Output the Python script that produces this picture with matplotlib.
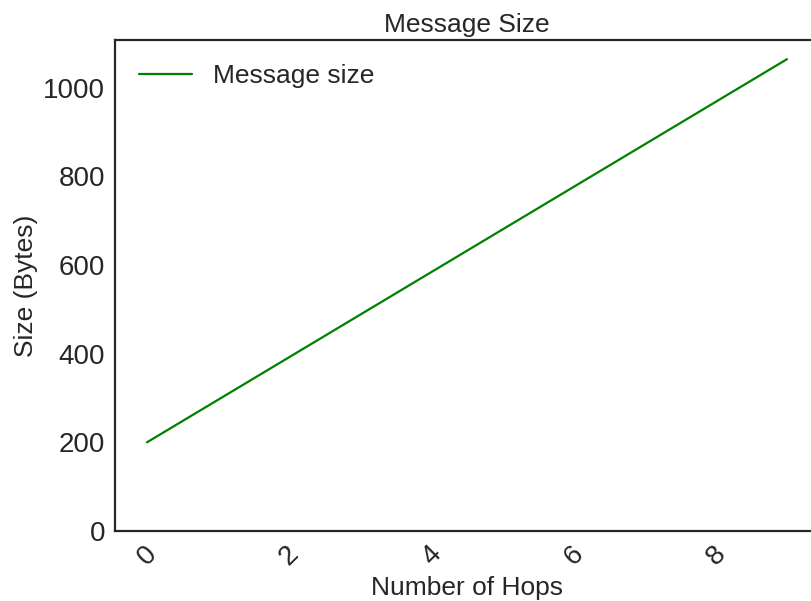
import matplotlib
matplotlib.use("Agg")
import matplotlib.pyplot as plt
import seaborn as sns

hops = [0, 1, 2, 3, 4, 5, 6, 7, 8, 9]
msg_size = [200, 296, 392, 488, 584, 680, 776, 872, 968, 1064]

sns.set_style("white")
plt.rcParams['font.family'] = ['Liberation Sans', 'DejaVu Sans']

fig = plt.figure(figsize=(8.11, 6.01), dpi=100)
ax = fig.add_axes([115 / 811, 1 - 531 / 601, 704 / 811, 491 / 601])
ax.plot(hops, msg_size, color='green', linewidth=1.6, label='Message size')
ax.set_ylim(bottom=0)
ax.set_xlabel('Number of Hops', fontsize=19)
ax.set_ylabel('Size (Bytes)', fontsize=19)
ax.set_title('Message Size', fontsize=19)
ax.tick_params(labelsize=20)
plt.setp(ax.get_xticklabels(), rotation=45)
for s in ax.spines.values():
    s.set_color('#262626')
    s.set_linewidth(1.6)
ax.legend(loc='upper left', frameon=False, fontsize=19)
fig.savefig('out.png', dpi=100)
